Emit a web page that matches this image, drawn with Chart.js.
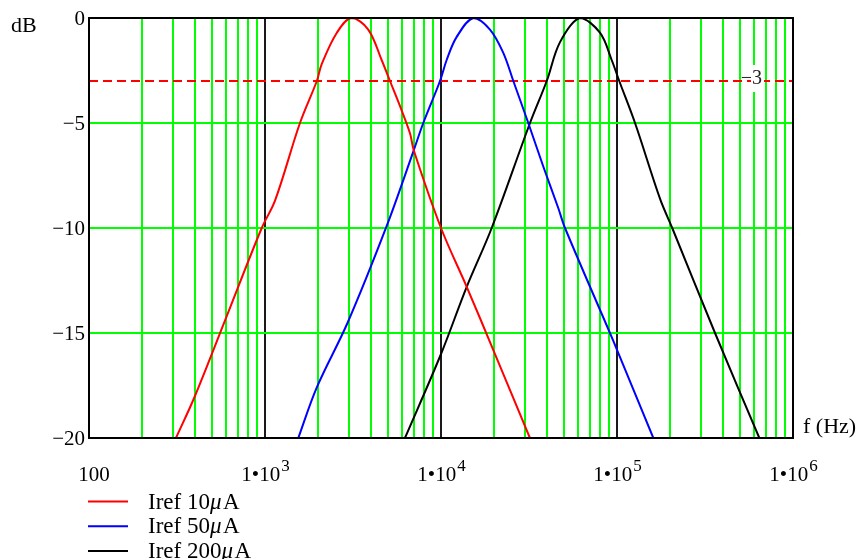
<!DOCTYPE html>
<html>
<head>
<meta charset="utf-8">
<script src="https://cdn.jsdelivr.net/npm/chart.js@4"></script>
<style>
  html, body { margin: 0; padding: 0; background: #fff; }
  canvas { display: block; }
</style>
</head>
<body>
<canvas id="c" width="865" height="559"></canvas>
<script>
// values (f in Hz, gain in dB)
const freq10 = [312, 400, 593, 958, 1140, 1580, 1970, 2100, 2560, 3100, 3860, 4600, 5130, 5850, 6670, 7000, 10000, 14000, 19800, 32000];
const db10 = [-20, -18, -14.4, -10, -8.7, -5, -3, -2.2, -0.7, 0, -0.55, -2, -3, -4.2, -5.5, -6.3, -10, -12.8, -15.8, -20];

const freq50 = [1546, 1967, 2950, 4915, 7000, 7930, 9870, 10770, 12280, 15270, 18980, 22590, 25760, 31330, 38120, 46420, 50660, 91200, 100000, 160800];
const db50 = [-20, -17.6, -14.5, -9.9, -6.3, -5, -3, -2, -0.9, 0, -0.55, -1.66, -3, -5, -7.07, -9.06, -10, -15, -15.8, -20];

const freq200 = [6240, 10000, 14000, 19410, 32040, 39880, 47450, 61640, 80000, 93260, 103000, 126600, 175500, 206000, 360500, 643700];
const db200 = [-20, -16, -12.8, -10, -5, -3, -1.15, 0, -0.7, -2, -3, -5, -8.6, -10, -15, -20];

const seriesLabels = ["Iref 10μA", "Iref 50μA", "Iref 200μA"];
const seriesColors = ["#ff0000", "#0000ff", "#000000"];

const cutoffDb = -3;
const cutoffLabel = "−3";

const xGrid = [100, 200, 300, 400, 500, 600, 700, 800, 900,
  1000, 2000, 3000, 4000, 5000, 6000, 7000, 8000, 9000,
  10000, 20000, 30000, 40000, 50000, 60000, 70000, 80000, 90000,
  100000, 200000, 300000, 400000, 500000, 600000, 700000, 800000, 900000, 1000000];
const xDecades = [100, 1000, 10000, 100000, 1000000];
const xTickLabels = ["100", "1•10^3", "1•10^4", "1•10^5", "1•10^6"];
const yTicks = [-20, -15, -10, -5, 0];
const yTickLabels = ["−20", "−15", "−10", "−5", "0"];

const SERIF = "'Liberation Serif', 'Times New Roman', serif";
const GREEN = "#00ff00";

const pts = (xs, ys) => xs.map((x, i) => ({ x: x, y: ys[i] }));

const curve = (label, color, xs, ys) => ({
  label: label,
  data: pts(xs, ys),
  borderColor: color,
  backgroundColor: color,
  borderWidth: 2,
  pointRadius: 0,
  showLine: true,
  tension: 0.35,
  fill: false,
});

const datasets = [
  curve(seriesLabels[0], seriesColors[0], freq10, db10),
  curve(seriesLabels[1], seriesColors[1], freq50, db50),
  curve(seriesLabels[2], seriesColors[2], freq200, db200),
  {
    label: "-3 dB",
    data: pts([xGrid[0], xGrid[xGrid.length - 1]], [cutoffDb, cutoffDb]),
    borderColor: "#ff0000",
    borderWidth: 2,
    borderDash: [9, 5],
    pointRadius: 0,
    showLine: true,
    fill: false,
    noLegend: true,
  },
];

// axis texts, legend, frame
const decor = {
  id: "decor",
  afterDraw(chart) {
    const ctx = chart.ctx;
    const a = chart.chartArea;
    const xs = chart.scales.x;
    const ys = chart.scales.y;
    ctx.save();

    // -3 marker text
    const yc = ys.getPixelForValue(cutoffDb);
    ctx.fillStyle = "#fff";
    ctx.fillRect(751, yc - 16, 13, 27);
    ctx.fillStyle = "#222";
    ctx.font = "20px " + SERIF;
    ctx.textAlign = "right";
    ctx.textBaseline = "middle";
    ctx.fillText(cutoffLabel, 762, yc - 2);

    // frame
    ctx.strokeStyle = "#000";
    ctx.lineWidth = 2;
    ctx.strokeRect(a.left, a.top, a.right - a.left, a.bottom - a.top);

    // y tick labels
    ctx.fillStyle = "#000";
    ctx.font = "21px " + SERIF;
    ctx.textAlign = "right";
    ctx.textBaseline = "middle";
    yTicks.forEach((v, i) => {
      ctx.fillText(yTickLabels[i], a.left - 4, ys.getPixelForValue(v) + 1);
    });

    // x tick labels (mantissa • 10 ^ exponent)
    ctx.textBaseline = "alphabetic";
    xDecades.forEach((v, i) => {
      const parts = xTickLabels[i].split("^");
      ctx.font = "21px " + SERIF;
      const w1 = ctx.measureText(parts[0]).width;
      let w2 = 0;
      if (parts[1]) {
        ctx.font = "17px " + SERIF;
        w2 = ctx.measureText(parts[1]).width;
      }
      const x0 = xs.getPixelForValue(v) - (w1 + w2) / 2 + (i === 0 ? 5 : 0);
      ctx.textAlign = "left";
      ctx.font = "21px " + SERIF;
      ctx.fillText(parts[0], x0, 481);
      if (parts[1]) {
        ctx.font = "17px " + SERIF;
        ctx.fillText(parts[1], x0 + w1 + 1, 471);
      }
    });

    // axis names
    ctx.font = "22px " + SERIF;
    ctx.textAlign = "left";
    ctx.fillText("dB", 11, 32);
    ctx.fillText("f (Hz)", 803, 433);

    // legend
    chart.data.datasets.filter((d) => !d.noLegend).forEach((d, i) => {
      const y = 501.5 + i * 24.7;
      ctx.strokeStyle = d.borderColor;
      ctx.lineWidth = 2;
      ctx.beginPath();
      ctx.moveTo(88, y);
      ctx.lineTo(128, y);
      ctx.stroke();
      ctx.fillStyle = "#000";
      let x = 148;
      d.label.split(/(μ)/).forEach((s) => {
        if (!s) return;
        ctx.font = (s === "μ" ? "italic " : "") + "23px " + SERIF;
        ctx.fillText(s, x, y + 7);
        x += ctx.measureText(s).width + (s === "μ" ? 1.5 : 0);
      });
    });

    ctx.restore();
  },
};

new Chart(document.getElementById("c"), {
  type: "scatter",
  data: { datasets: datasets },
  options: {
    responsive: false,
    devicePixelRatio: 1,
    animation: false,
    layout: { padding: { left: 89, right: 72, top: 18, bottom: 121 } },
    plugins: { legend: { display: false }, tooltip: { enabled: false } },
    scales: {
      x: {
        type: "logarithmic",
        min: 100,
        max: 1000000,
        afterBuildTicks: (s) => { s.ticks = xGrid.map((v) => ({ value: v })); },
        ticks: { display: false },
        grid: {
          drawTicks: false,
          lineWidth: 2,
          color: (c) => (xDecades.includes(c.tick.value) ? "#1a1a1a" : GREEN),
        },
        border: { color: "#000", width: 2 },
      },
      y: {
        min: -20,
        max: 0,
        afterBuildTicks: (s) => { s.ticks = yTicks.map((v) => ({ value: v })); },
        ticks: { display: false },
        grid: {
          drawTicks: false,
          lineWidth: 2,
          color: (c) => (c.tick.value > -20 && c.tick.value < 0 ? GREEN : "rgba(0,0,0,0)"),
        },
        border: { color: "#000", width: 2 },
      },
    },
  },
  plugins: [decor],
});
</script>
</body>
</html>
